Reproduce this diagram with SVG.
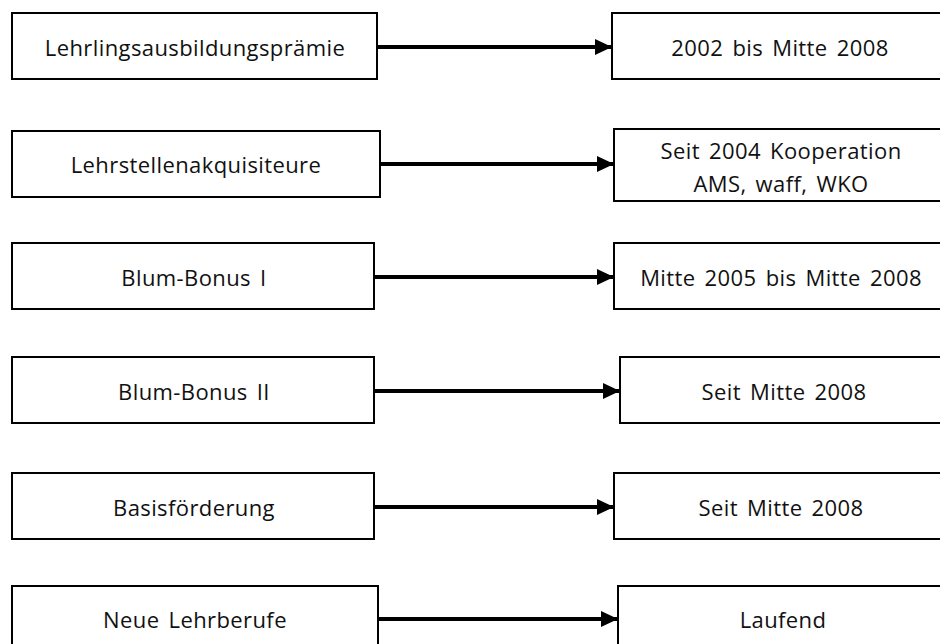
<svg xmlns="http://www.w3.org/2000/svg" width="940" height="644" viewBox="0 0 940 644">
<style>
.box{fill:#fff;stroke:#000;stroke-width:2}
.t{font-family:"Open Sans","Noto Sans","DejaVu Sans",sans-serif;font-size:22px;letter-spacing:0.4px;word-spacing:3px;fill:#111;text-anchor:middle}
.c{stroke:#000;stroke-width:4;fill:none;marker-end:url(#ah)}
</style>
<defs>
<marker id="ah" viewBox="0 0 17 16" refX="17" refY="8" markerWidth="17" markerHeight="16" markerUnits="userSpaceOnUse" orient="auto">
<path d="M0,0 L17,8 L0,16 Z" fill="#000"/>
</marker>
</defs>
<rect width="940" height="644" fill="#fff"/>
<g id="connectors">
<line class="c" x1="377" y1="47" x2="612" y2="47"/>
<line class="c" x1="380" y1="164" x2="614" y2="164"/>
<line class="c" x1="374" y1="277" x2="614" y2="277"/>
<line class="c" x1="374" y1="391" x2="620" y2="391"/>
<line class="c" x1="374" y1="507" x2="614" y2="507"/>
<line class="c" x1="378" y1="619" x2="618" y2="619"/>
</g>
<g id="n1"><rect class="box" x="12" y="13" width="365" height="66"/><text class="t" x="195" y="56">Lehrlingsausbildungsprämie</text></g>
<g id="n2"><rect class="box" x="612" y="13" width="336" height="66"/><text class="t" x="780" y="56">2002 bis Mitte 2008</text></g>
<g id="n3"><rect class="box" x="12" y="131" width="368" height="66"/><text class="t" x="196" y="173">Lehrstellenakquisiteure</text></g>
<g id="n4"><rect class="box" x="614" y="129" width="334" height="72"/><text class="t" x="781" y="159">Seit 2004 Kooperation</text><text class="t" x="781" y="192">AMS, waff, WKO</text></g>
<g id="n5"><rect class="box" x="12" y="243" width="362" height="66"/><text class="t" x="194" y="286">Blum-Bonus I</text></g>
<g id="n6"><rect class="box" x="614" y="243" width="334" height="66"/><text class="t" x="781" y="286">Mitte 2005 bis Mitte 2008</text></g>
<g id="n7"><rect class="box" x="12" y="357" width="362" height="66"/><text class="t" x="194" y="400">Blum-Bonus II</text></g>
<g id="n8"><rect class="box" x="620" y="357" width="328" height="66"/><text class="t" x="784" y="400">Seit Mitte 2008</text></g>
<g id="n9"><rect class="box" x="12" y="473" width="362" height="66"/><text class="t" x="194" y="516">Basisförderung</text></g>
<g id="n10"><rect class="box" x="614" y="473" width="334" height="66"/><text class="t" x="781" y="516">Seit Mitte 2008</text></g>
<g id="n11"><rect class="box" x="12" y="586" width="366" height="70"/><text class="t" x="195" y="628">Neue Lehrberufe</text></g>
<g id="n12"><rect class="box" x="618" y="586" width="330" height="70"/><text class="t" x="783" y="628">Laufend</text></g>
</svg>
